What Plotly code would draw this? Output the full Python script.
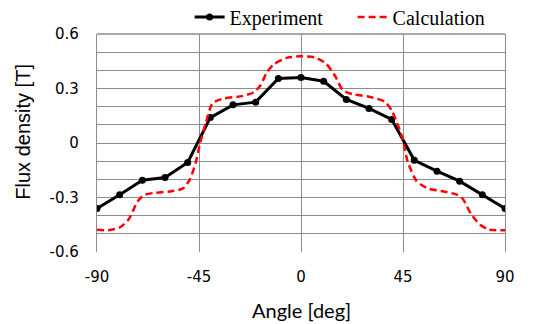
import plotly.graph_objects as go

# Measured flux density at 10-degree steps
exp_angle = [-90, -80, -70, -60, -50, -40, -30, -20, -10, 0,
             10, 20, 30, 40, 50, 60, 70, 80, 90]
exp_flux = [-0.36, -0.285, -0.205, -0.19, -0.107, 0.14, 0.21, 0.225, 0.355, 0.36,
            0.34, 0.24, 0.19, 0.13, -0.095, -0.155, -0.21, -0.285, -0.36]

# Calculated flux density profile
calc_angle = [-90, -85, -80, -76, -72, -69, -65, -58, -52, -49, -46.5, -44.5, -42,
              -39, -34, -26, -21, -18, -15, -12, -6, 0, 6, 11, 15, 18.5, 23, 30,
              37, 40, 43, 45, 47, 51, 56, 63, 69, 71.5, 75, 79, 83, 90]
calc_flux = [-0.477, -0.48, -0.465, -0.42, -0.32, -0.285, -0.275, -0.267, -0.25,
             -0.2, -0.11, 0.0, 0.11, 0.22, 0.245, 0.258, 0.278, 0.315, 0.39, 0.433,
             0.47, 0.477, 0.472, 0.438, 0.37, 0.29, 0.268, 0.255, 0.227, 0.18, 0.09,
             0.015, -0.1, -0.21, -0.25, -0.267, -0.285, -0.31, -0.39, -0.45, -0.477,
             -0.48]

x_ticks = [-90, -45, 0, 45, 90]
y_ticks = [-0.6, -0.3, 0, 0.3, 0.6]
y_minor = [-0.5, -0.4, -0.2, -0.1, 0.1, 0.2, 0.4, 0.5]

grid = "#8c8c8c"

fig = go.Figure()
fig.add_trace(go.Scatter(
    x=exp_angle, y=exp_flux, mode="lines+markers", name="Experiment",
    line=dict(color="black", width=3),
    marker=dict(color="black", size=7, symbol="circle"),
))
fig.add_trace(go.Scatter(
    x=calc_angle, y=calc_flux, mode="lines", name="Calculation",
    line=dict(color="#ff0000", width=2.5, dash="7px,4px", shape="spline", smoothing=0.6),
))

fig.update_layout(
    width=534, height=324,
    margin=dict(l=97, r=29, t=34, b=72, autoexpand=False),
    paper_bgcolor="white", plot_bgcolor="white",
    showlegend=True,
    legend=dict(
        orientation="h", x=0.227, xanchor="left", y=1.078, yanchor="middle",
        font=dict(family="Liberation Serif", size=20, color="black"),
        bgcolor="rgba(0,0,0,0)", itemwidth=30, tracegroupgap=0,
        entrywidth=118,
    ),
    xaxis=dict(
        range=[-90, 90], tickmode="array", tickvals=x_ticks,
        ticktext=[str(v) for v in x_ticks],
        showgrid=True, gridcolor=grid, gridwidth=1.3,
        zeroline=False, showline=False, ticks="",
        ticklabelstandoff=14,
        tickfont=dict(family="DejaVu Sans", size=15, color="black"),
    ),
    yaxis=dict(
        range=[-0.6, 0.6], tickmode="array", tickvals=y_ticks,
        ticktext=["-0.6", "-0.3", "0", "0.3", "0.6"],
        showgrid=True, gridcolor=grid, gridwidth=1.3,
        minor=dict(tickmode="array", tickvals=y_minor, showgrid=True,
                   gridcolor=grid, gridwidth=1.3),
        zeroline=False, showline=True, mirror=True, linecolor=grid, linewidth=1.3,
        ticks="", ticklabelstandoff=14,
        tickfont=dict(family="DejaVu Sans", size=15, color="black"),
    ),
    shapes=[dict(type="line", xref="x domain", yref="y domain",
                 x0=0, x1=1, y0=1, y1=1, line=dict(color=grid, width=1.3))],
    annotations=[
        dict(text="Angle [deg]", xref="paper", yref="paper", x=0.5, y=-0.265,
             xanchor="center", yanchor="middle", showarrow=False,
             font=dict(family="Lato", size=20, color="black")),
        dict(text="Flux density [T]", xref="paper", yref="paper", x=-0.18, y=0.55,
             xanchor="center", yanchor="middle", showarrow=False, textangle=-90,
             font=dict(family="Liberation Sans", size=20, color="black")),
    ],
)

fig.write_html("out.html")
